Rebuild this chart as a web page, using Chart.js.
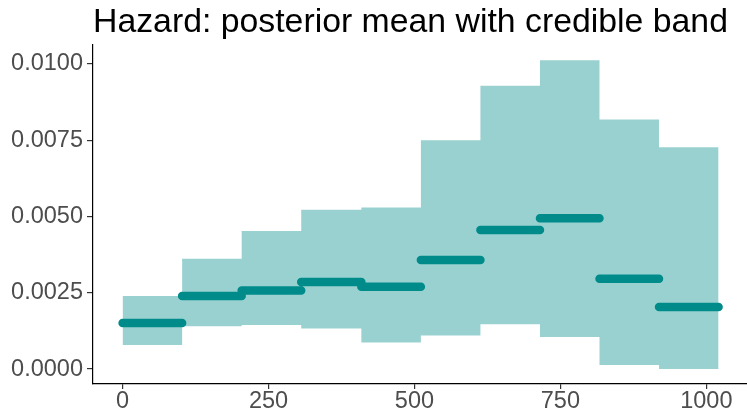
<!DOCTYPE html>
<html>
<head>
<meta charset="utf-8">
<script src="https://cdn.jsdelivr.net/npm/chart.js@4"></script>
<style>
  html, body { margin: 0; padding: 0; background: #fff; }
</style>
</head>
<body>
<canvas id="grafica" width="747" height="414"></canvas>
<script>
// interval breaks (time) and hazard per interval
const cortes = [0, 102, 204, 306, 409, 511, 613, 715, 817, 919, 1021];
const media = [0.00151, 0.00239, 0.00257, 0.00285, 0.00270, 0.00357, 0.00456, 0.00494, 0.00296, 0.00203];
const superior = [0.00239, 0.00361, 0.00452, 0.00522, 0.00529, 0.00750, 0.00928, 0.01012, 0.00818, 0.00727];
const inferior = [0.00079, 0.00140, 0.00144, 0.00133, 0.00087, 0.00110, 0.00147, 0.00105, 0.00013, 0.00000];
const ticksX = [0, 250, 500, 750, 1000];
const ticksY = [0, 0.0025, 0.005, 0.0075, 0.01];

const fuente = "'Liberation Sans', Arial, sans-serif";

// step outline for the band: both ends of each interval
function escalones(vals) {
    const pts = [];
    vals.forEach((v, i) => {
        pts.push({ x: cortes[i], y: v });
        pts.push({ x: cortes[i + 1], y: v });
    });
    return pts;
}

// separate segments for the mean, broken by nulls
function segmentos(vals) {
    const pts = [];
    vals.forEach((v, i) => {
        pts.push({ x: cortes[i], y: v });
        pts.push({ x: cortes[i + 1], y: v });
        pts.push({ x: cortes[i + 1], y: null });
    });
    return pts;
}

const $grafica = document.querySelector("#grafica");

new Chart($grafica, {
    type: 'line',
    data: {
        datasets: [
            {
                label: 'media',
                data: segmentos(media),
                borderColor: '#008B8B',
                borderWidth: 8.5,
                borderCapStyle: 'round',
                pointRadius: 0,
                spanGaps: false,
                fill: false,
                order: 0
            },
            {
                label: 'superior',
                data: escalones(superior),
                borderWidth: 0,
                borderColor: 'rgba(0,0,0,0)',
                backgroundColor: 'rgba(0, 139, 139, 0.4)',
                pointRadius: 0,
                fill: '+1',
                order: 1
            },
            {
                label: 'inferior',
                data: escalones(inferior),
                borderWidth: 0,
                borderColor: 'rgba(0,0,0,0)',
                pointRadius: 0,
                fill: false,
                order: 2
            }
        ]
    },
    options: {
        responsive: false,
        animation: false,
        layout: { padding: 0 },
        plugins: {
            legend: { display: false },
            tooltip: { enabled: false },
            title: {
                display: true,
                text: 'Hazard: posterior mean with credible band',
                align: 'start',
                fullSize: false,
                color: '#000',
                font: { family: fuente, size: 33.8, weight: 'normal', lineHeight: 1 },
                padding: { top: 6, bottom: 5 }
            }
        },
        scales: {
            x: {
                type: 'linear',
                min: -50.7,
                max: 1069.7,
                afterBuildTicks: (s) => { s.ticks = ticksX.map(v => ({ value: v })); },
                afterFit: (s) => { s.height = 30; },
                border: { display: true, color: '#000', width: 1.2 },
                grid: { drawOnChartArea: false, drawTicks: true, tickLength: 5, color: '#333', lineWidth: 1.2 },
                ticks: {
                    autoSkip: false,
                    maxRotation: 0,
                    padding: 1,
                    color: '#4D4D4D',
                    font: { family: fuente, size: 23.5, lineHeight: 1 },
                    callback: (v) => String(v)
                }
            },
            y: {
                type: 'linear',
                min: -0.000491,
                max: 0.010626,
                afterBuildTicks: (s) => { s.ticks = ticksY.map(v => ({ value: v })); },
                afterFit: (s) => { s.width = 93; },
                border: { display: true, color: '#000', width: 1.2 },
                grid: { drawOnChartArea: false, drawTicks: true, tickLength: 6, color: '#333', lineWidth: 1.2 },
                ticks: {
                    autoSkip: false,
                    padding: 4,
                    color: '#4D4D4D',
                    font: { family: fuente, size: 23.5 },
                    callback: (v) => Number(v).toFixed(4)
                }
            }
        }
    }
});
</script>
</body>
</html>
